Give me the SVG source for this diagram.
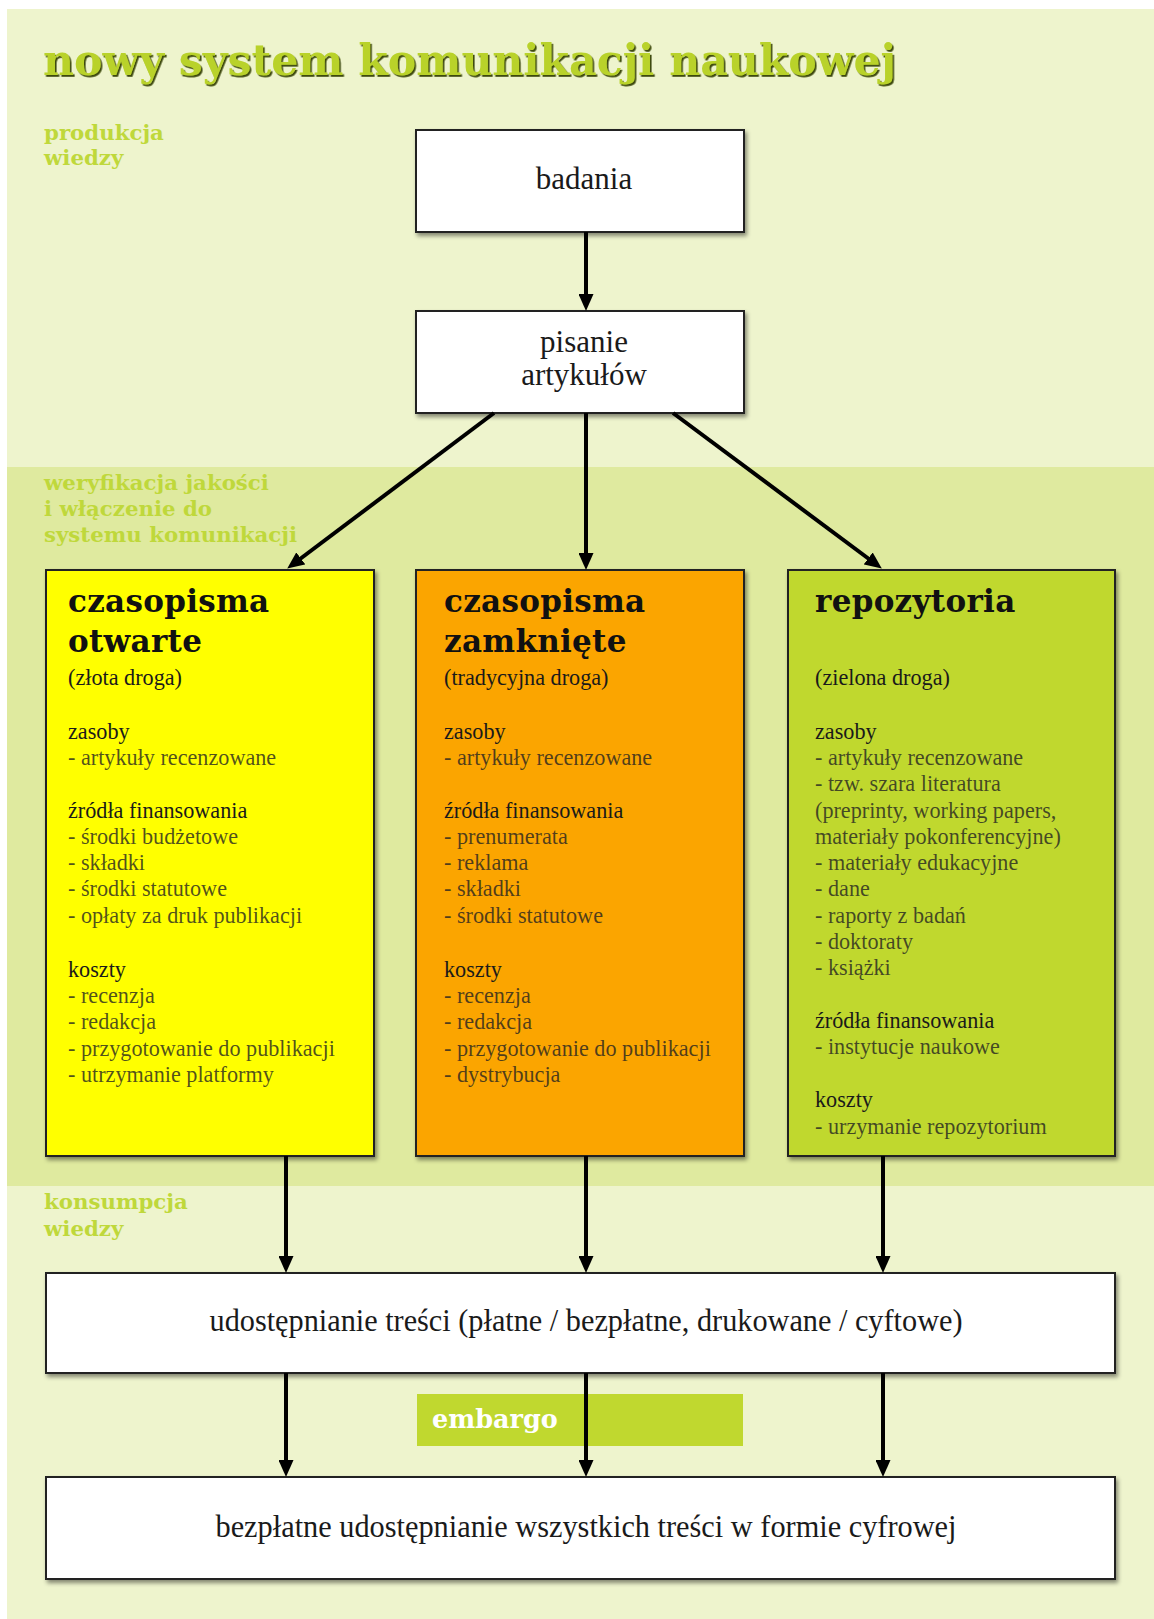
<svg xmlns="http://www.w3.org/2000/svg" width="1154" height="1619" viewBox="0 0 1154 1619">
<defs>
<style>
.bg1{fill:#eef4cd}
.bg2{fill:#dfea9f}
.title{font-family:"DejaVu Serif",serif;font-weight:bold;font-size:43px;fill:#b9d22c}
.sec{font-family:"DejaVu Serif",serif;font-weight:bold;font-size:21.3px;fill:#bfd83b}
.box{stroke:#222;stroke-width:2}
.wbox{fill:#ffffff}
.lbl{font-family:"Liberation Serif",serif;font-size:31px;fill:#1a1a1a}
.head{font-family:"DejaVu Serif",serif;font-weight:bold;font-size:31px;fill:#111;letter-spacing:0.3px}
.sub{font-family:"Liberation Serif",serif;font-size:22.2px;fill:#1a1a1a}
.item{font-family:"Liberation Serif",serif;font-size:22.2px;fill:#222;fill-opacity:0.78}
.conn{stroke:#000;stroke-width:4;fill:none}
</style>
<filter id="shadow" x="-5%" y="-5%" width="115%" height="115%">
<feDropShadow dx="2" dy="3" stdDeviation="2" flood-color="#000" flood-opacity="0.45"/>
</filter>
<filter id="tshadow" x="-2%" y="-10%" width="104%" height="130%">
<feDropShadow dx="1.6" dy="1.8" stdDeviation="0.4" flood-color="#3e4a10" flood-opacity="1"/>
</filter>
<marker id="arrow" markerUnits="userSpaceOnUse" markerWidth="17" markerHeight="15" refX="6" refY="7.5" orient="auto">
<path d="M0,0 L17,7.5 L0,15 z" fill="#000"/>
</marker>
</defs>

<rect x="0" y="0" width="1154" height="1619" fill="#ffffff"/>
<rect class="bg1" x="7" y="9" width="1147" height="1610"/>
<rect class="bg2" x="7" y="467" width="1147" height="719"/>

<text class="title" x="43" y="75" textLength="853" lengthAdjust="spacingAndGlyphs" filter="url(#tshadow)">nowy system komunikacji naukowej</text>

<g id="section-labels">
<text class="sec" x="44" y="140">produkcja</text>
<text class="sec" x="44" y="165">wiedzy</text>
<text class="sec" x="44" y="490">weryfikacja jakości</text>
<text class="sec" x="44" y="516">i włączenie do</text>
<text class="sec" x="44" y="542">systemu komunikacji</text>
<text class="sec" x="44" y="1209">konsumpcja</text>
<text class="sec" x="44" y="1236">wiedzy</text>
</g>

<g id="badania">
<rect class="box wbox" x="416" y="130" width="328" height="102" filter="url(#shadow)"/>
<text class="lbl" x="584" y="189" text-anchor="middle">badania</text>
</g>

<g id="pisanie">
<rect class="box wbox" x="416" y="311" width="328" height="102" filter="url(#shadow)"/>
<text class="lbl" x="584" y="352" text-anchor="middle">pisanie</text>
<text class="lbl" x="584" y="385" text-anchor="middle">artykułów</text>
</g>

<g id="czasopisma-otwarte">
<rect class="box" x="46" y="570" width="328" height="586" fill="#ffff00" filter="url(#shadow)"/>
<text class="head"><tspan x="68" y="612">czasopisma</tspan><tspan x="68" y="652">otwarte</tspan></text>
<text class="sub" x="68" y="685">(złota droga)</text>
<text class="sub" x="68" y="739">zasoby</text>
<text class="item" x="68" y="765">- artykuły recenzowane</text>
<text class="sub" x="68" y="818">źródła finansowania</text>
<text class="item"><tspan x="68" y="844">- środki budżetowe</tspan><tspan x="68" y="870">- składki</tspan><tspan x="68" y="896">- środki statutowe</tspan><tspan x="68" y="923">- opłaty za druk publikacji</tspan></text>
<text class="sub" x="68" y="977">koszty</text>
<text class="item"><tspan x="68" y="1003">- recenzja</tspan><tspan x="68" y="1029">- redakcja</tspan><tspan x="68" y="1056">- przygotowanie do publikacji</tspan><tspan x="68" y="1082">- utrzymanie platformy</tspan></text>
</g>

<g id="czasopisma-zamkniete">
<rect class="box" x="416" y="570" width="328" height="586" fill="#fba503" filter="url(#shadow)"/>
<text class="head"><tspan x="444" y="612">czasopisma</tspan><tspan x="444" y="652">zamknięte</tspan></text>
<text class="sub" x="444" y="685">(tradycyjna droga)</text>
<text class="sub" x="444" y="739">zasoby</text>
<text class="item" x="444" y="765">- artykuły recenzowane</text>
<text class="sub" x="444" y="818">źródła finansowania</text>
<text class="item"><tspan x="444" y="844">- prenumerata</tspan><tspan x="444" y="870">- reklama</tspan><tspan x="444" y="896">- składki</tspan><tspan x="444" y="923">- środki statutowe</tspan></text>
<text class="sub" x="444" y="977">koszty</text>
<text class="item"><tspan x="444" y="1003">- recenzja</tspan><tspan x="444" y="1029">- redakcja</tspan><tspan x="444" y="1056">- przygotowanie do publikacji</tspan><tspan x="444" y="1082">- dystrybucja</tspan></text>
</g>

<g id="repozytoria">
<rect class="box" x="788" y="570" width="327" height="586" fill="#c0d82f" filter="url(#shadow)"/>
<text class="head" x="815" y="612" letter-spacing="1.4">repozytoria</text>
<text class="sub" x="815" y="685">(zielona droga)</text>
<text class="sub" x="815" y="739">zasoby</text>
<text class="item"><tspan x="815" y="765">- artykuły recenzowane</tspan><tspan x="815" y="791">- tzw. szara literatura</tspan><tspan x="815" y="818">(preprinty, working papers,</tspan><tspan x="815" y="844">materiały pokonferencyjne)</tspan><tspan x="815" y="870">- materiały edukacyjne</tspan><tspan x="815" y="896">- dane</tspan><tspan x="815" y="923">- raporty z badań</tspan><tspan x="815" y="949">- doktoraty</tspan><tspan x="815" y="975">- książki</tspan></text>
<text class="sub" x="815" y="1028">źródła finansowania</text>
<text class="item" x="815" y="1054">- instytucje naukowe</text>
<text class="sub" x="815" y="1107">koszty</text>
<text class="item" x="815" y="1134">- urzymanie repozytorium</text>
</g>

<g id="udostepnianie">
<rect class="box wbox" x="46" y="1273" width="1069" height="100" filter="url(#shadow)"/>
<text class="lbl" x="586" y="1331" text-anchor="middle" font-size="30.5" textLength="753" lengthAdjust="spacingAndGlyphs">udostępnianie treści (płatne / bezpłatne, drukowane / cyftowe)</text>
</g>

<g id="embargo">
<rect x="417" y="1394" width="326" height="52" fill="#c0d82f"/>
<text x="432" y="1428" font-family="DejaVu Serif, serif" font-weight="bold" font-size="25.5" fill="#ffffff">embargo</text>
</g>

<g id="bezplatne">
<rect class="box wbox" x="46" y="1477" width="1069" height="102" filter="url(#shadow)"/>
<text class="lbl" x="586" y="1537" text-anchor="middle" font-size="30.5" textLength="741" lengthAdjust="spacingAndGlyphs">bezpłatne udostępnianie wszystkich treści w formie cyfrowej</text>
</g>

<g id="connectors">
<line class="conn" x1="586" y1="232" x2="586" y2="300" marker-end="url(#arrow)"/>
<line class="conn" x1="494" y1="413" x2="296" y2="562" marker-end="url(#arrow)"/>
<line class="conn" x1="586" y1="413" x2="586" y2="559" marker-end="url(#arrow)"/>
<line class="conn" x1="673" y1="413" x2="873" y2="562" marker-end="url(#arrow)"/>
<line class="conn" x1="286" y1="1156" x2="286" y2="1262" marker-end="url(#arrow)"/>
<line class="conn" x1="586" y1="1156" x2="586" y2="1262" marker-end="url(#arrow)"/>
<line class="conn" x1="883" y1="1156" x2="883" y2="1262" marker-end="url(#arrow)"/>
<line class="conn" x1="286" y1="1373" x2="286" y2="1466" marker-end="url(#arrow)"/>
<line class="conn" x1="586" y1="1373" x2="586" y2="1466" marker-end="url(#arrow)"/>
<line class="conn" x1="883" y1="1373" x2="883" y2="1466" marker-end="url(#arrow)"/>
</g>
</svg>
